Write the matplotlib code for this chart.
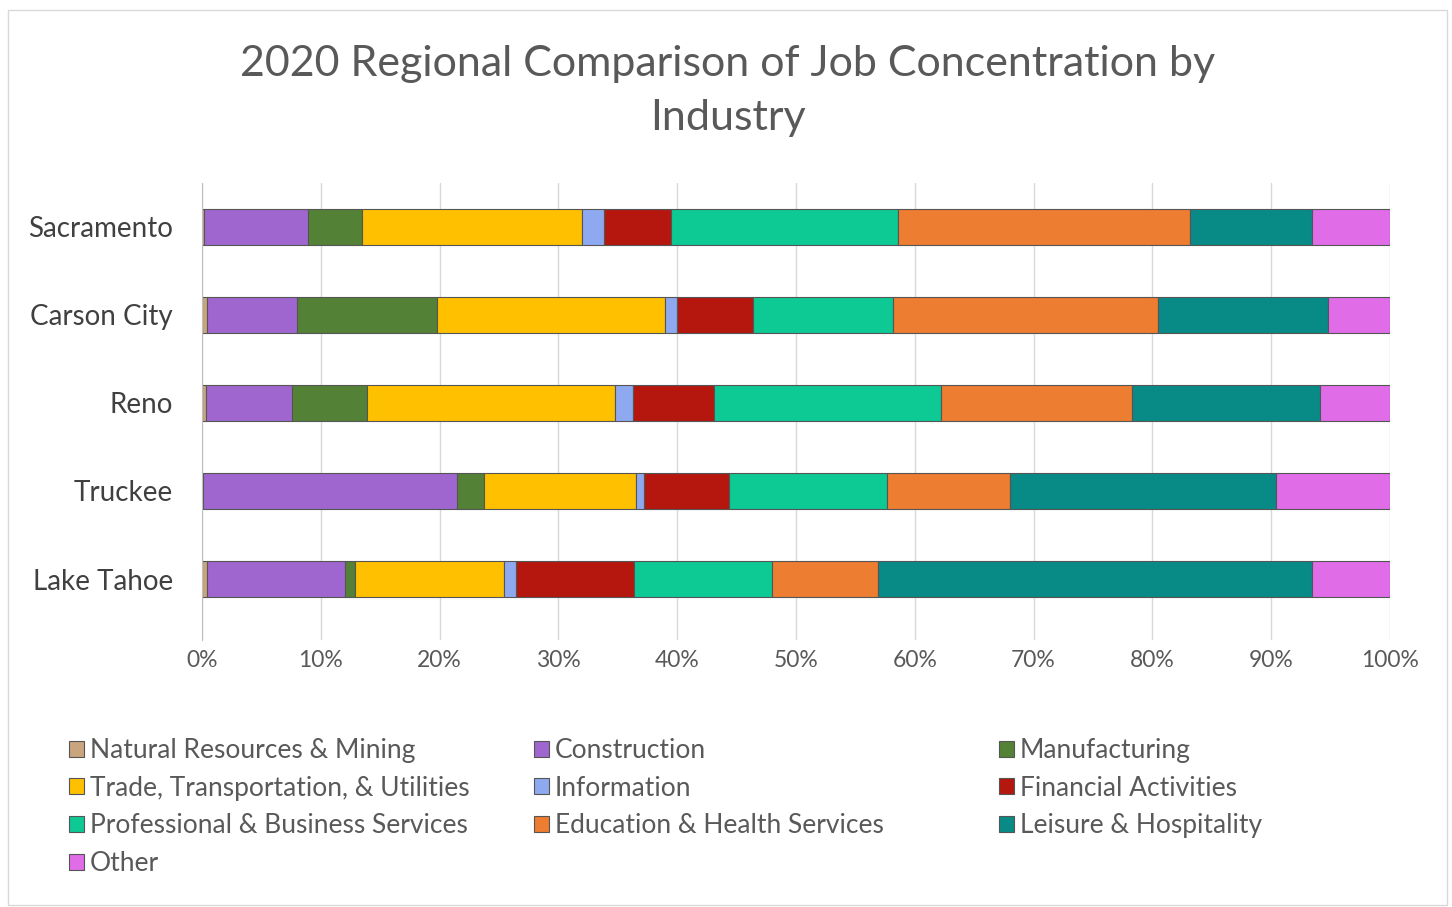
import matplotlib
matplotlib.use("Agg")
import matplotlib.pyplot as plt
from matplotlib.patches import Patch, Rectangle
import numpy as np

plt.rcParams['font.family'] = ['Lato', 'DejaVu Sans']

# data (percent share of jobs)
regions = ["Sacramento", "Carson City", "Reno", "Truckee", "Lake Tahoe"]
industries = ["Natural Resources & Mining", "Construction", "Manufacturing",
              "Trade, Transportation, & Utilities", "Information", "Financial Activities",
              "Professional & Business Services", "Education & Health Services",
              "Leisure & Hospitality", "Other"]
natural_resources = [0.2, 0.4, 0.3, 0.1, 0.4]
construction = [8.7, 7.6, 7.3, 21.4, 11.6]
manufacturing = [4.6, 11.8, 6.3, 2.2, 0.9]
trade = [18.5, 19.2, 20.9, 12.8, 12.5]
information = [1.8, 1.0, 1.5, 0.7, 1.0]
financial = [5.7, 6.4, 6.8, 7.2, 10.0]
professional = [19.1, 11.8, 19.1, 13.3, 11.6]
education = [24.6, 22.3, 16.1, 10.3, 8.9]
leisure = [10.2, 14.3, 15.8, 22.4, 36.5]
other = [6.6, 5.2, 5.9, 9.6, 6.6]
tick_labels = ["0%", "10%", "20%", "30%", "40%", "50%", "60%", "70%", "80%", "90%", "100%"]

series = [natural_resources, construction, manufacturing, trade, information,
          financial, professional, education, leisure, other]
colors = ["#C9A57E", "#A066CF", "#538135", "#FFC000", "#8EA9F0",
          "#B5170F", "#0DC993", "#ED7D31", "#088A87", "#E06CE8"]

fig = plt.figure(figsize=(14.52, 9.07), dpi=100)
fig.patches.append(Rectangle((8 / 1452, 1 - 905 / 907), 1439 / 1452, 895 / 907,
                             transform=fig.transFigure, fill=False,
                             edgecolor="#D9D9D9", linewidth=1))

ax = fig.add_axes([202 / 1452, 1 - 640 / 907, 1188 / 1452, 457 / 907])

y = np.arange(len(regions))
left = np.zeros(len(regions))
for name, vals, col in zip(industries, series, colors):
    vals = np.array(vals)
    ax.barh(y, vals, left=left, height=0.41, color=col, edgecolor="#555555",
            linewidth=0.8, label=name, zorder=3)
    left += vals

ax.set_xlim(0, 100)
ax.set_ylim(-0.5 + 457 / 88, -0.5)
ax.set_xticks(np.arange(0, 101, 10))
ax.set_xticklabels(tick_labels, fontsize=16.5, color="#595959")
ax.set_yticks(y)
ax.set_yticklabels(regions, fontsize=20, color="#404040")
ax.tick_params(axis="x", length=0, pad=7)
ax.tick_params(axis="y", length=0, pad=21)
ax.grid(axis="x", color="#D9D9D9", linewidth=1, zorder=0)
for s in ["top", "right", "bottom"]:
    ax.spines[s].set_visible(False)
ax.spines["left"].set_color("#BFBFBF")
ax.spines["left"].set_zorder(4)

fig.text(728 / 1452, 1 - 91 / 907,
         "2020 Regional Comparison of Job Concentration by\nIndustry",
         ha="center", va="center", fontsize=31, color="#595959", linespacing=1.5)

# legend in three columns, filled row by row
handles = [Patch(facecolor=c, edgecolor="#555555", linewidth=0.8) for c in colors]
col_x = [69, 534, 999]
for j in range(3):
    idx = list(range(j, len(industries), 3))
    leg = fig.legend([handles[i] for i in idx], [industries[i] for i in idx],
                     loc="upper left", bbox_to_anchor=(col_x[j] / 1452, 1 - 738 / 907),
                     frameon=False, fontsize=19, handlelength=0.55, handleheight=0.55,
                     handletextpad=0.25, labelspacing=0.48, borderaxespad=0, borderpad=0)
    for t in leg.get_texts():
        t.set_color("#595959")

fig.savefig("out.png", dpi=100)
